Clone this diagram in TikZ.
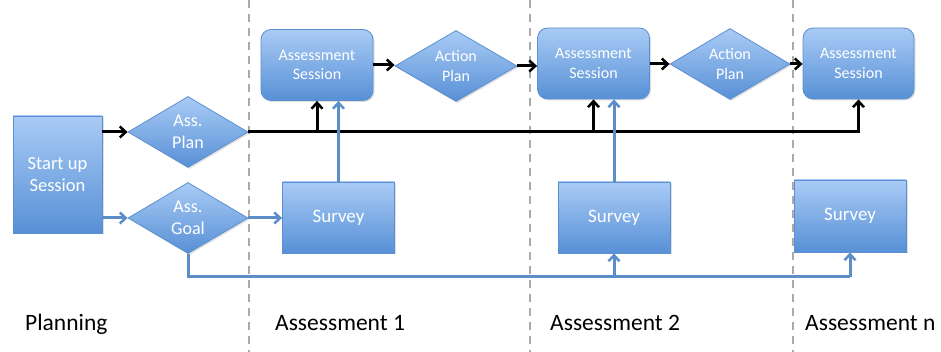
\documentclass[tikz,border=0pt]{standalone}
\usepackage{fontspec}
\setmainfont{Carlito}
\usetikzlibrary{shapes.geometric,arrows.meta,shadows}
\definecolor{boxtop}{HTML}{A9CBF5}
\definecolor{boxbot}{HTML}{5790D6}
\definecolor{boxline}{HTML}{5B8FD0}
\definecolor{blueline}{HTML}{5B8EC9}
\definecolor{dashgray}{HTML}{ABABAB}
\tikzset{
  shadecol/.style={top color=boxtop, bottom color=boxbot, draw=boxline, line width=0.8pt,
    text=white, align=center, inner sep=0pt,
    drop shadow={shadow xshift=1.5pt, shadow yshift=-1.5pt, opacity=0.25}},
  sessbox/.style={shadecol, rectangle, rounded corners=10pt, minimum width=112pt, minimum height=71pt, font=\fontsize{16}{19.5}\selectfont},
  plainbox/.style={shadecol, rectangle, minimum width=112pt, minimum height=71pt, font=\fontsize{19}{21}\selectfont},
  decbox/.style={shadecol, diamond, aspect=1.7, minimum width=120pt, minimum height=71pt, font=\fontsize{16}{20}\selectfont},
  bigdec/.style={decbox, font=\fontsize{18}{22}\selectfont},
  blkarrow/.style={line width=3pt, black, -{Straight Barb[length=6pt,width=11pt,line width=2.5pt]}},
  bluarrow/.style={line width=3pt, blueline, -{Straight Barb[length=6pt,width=11pt,line width=2.5pt]}},
  bluline/.style={line width=3pt, blueline},
  divider/.style={line width=2.2pt, dashgray, dash pattern=on 8pt off 6pt},
  phase/.style={anchor=base west, font=\fontsize{23.5}{25}\selectfont, inner sep=0pt},
}
\begin{document}
\begin{tikzpicture}[x=1pt,y=-1pt]
\useasboundingbox (0,0) rectangle (941,352);
% dividers
\coordinate (d1t) at (249,0); \coordinate (d1b) at (249,352);
\coordinate (d2t) at (530,0); \coordinate (d2b) at (530,352);
\coordinate (d3t) at (793,0); \coordinate (d3b) at (793,352);
\draw[divider] (d1t) -- (d1b);
\draw[divider] (d2t) -- (d2b);
\draw[divider] (d3t) -- (d3b);
% nodes
\node[plainbox, minimum width=89pt, minimum height=117pt, font=\fontsize{18.5}{22}\selectfont] (start) at (57.5,174.5) {Start up\\Session};
\node[bigdec] (plan) at (188,132) {Ass.\\Plan};
\node[bigdec] (goal) at (188,218) {Ass.\\Goal};
\node[sessbox] (as1) at (317,65) {Assessment\\Session};
\node[decbox, minimum width=122pt] (ap1) at (456,66) {Action\\Plan};
\node[sessbox] (as2) at (593.5,63.5) {Assessment\\Session};
\node[decbox] (ap2) at (730,64) {Action\\Plan};
\node[sessbox, minimum width=111pt] (asn) at (858.5,63.5) {Assessment\\Session};
\node[plainbox] (sv1) at (338.5,217.5) {Survey};
\node[plainbox] (sv2) at (614,217.5) {Survey};
\node[plainbox, minimum height=72pt] (svn) at (850,216) {Survey};
% black flow
\draw[blkarrow] (start.east |- plan) -- (plan.west);
\draw[blkarrow] (plan.east) -| (as1.south);
\draw[blkarrow] (plan.east) -| (as2.south);
\draw[blkarrow] (plan.east) -| (asn.south);
\draw[blkarrow] (as1.east) -- (as1.east -| ap1.west);
\draw[blkarrow] (ap1.east) -- (ap1.east -| as2.west);
\draw[blkarrow] (as2.east |- ap2) -- (ap2.west);
\draw[blkarrow] (ap2.east) -- (ap2.east -| asn.west);
% blue flow
\draw[bluarrow] (start.east |- goal) -- (goal.west);
\draw[bluarrow] (goal.east) -- (goal.east -| sv1.west);
\draw[bluarrow] (sv1.north) -- (sv1.north |- as1.south);
\draw[bluarrow] (sv2.north) -- (sv2.north |- as2.south);
\coordinate (bus) at (0,277);
\draw[bluline] (goal.south) |- (bus -| svn.south);
\draw[bluarrow] (bus -| sv2.south) -- (sv2.south);
\draw[bluarrow] (bus -| svn.south) -- (svn.south);
% phase labels
\node[phase] (l0) at (25,330) {Planning};
\node[phase] (l1) at (275,330) {Assessment 1};
\node[phase] (l2) at (550,330) {Assessment 2};
\node[phase] (l3) at (805,330) {Assessment n};
\end{tikzpicture}
\end{document}
